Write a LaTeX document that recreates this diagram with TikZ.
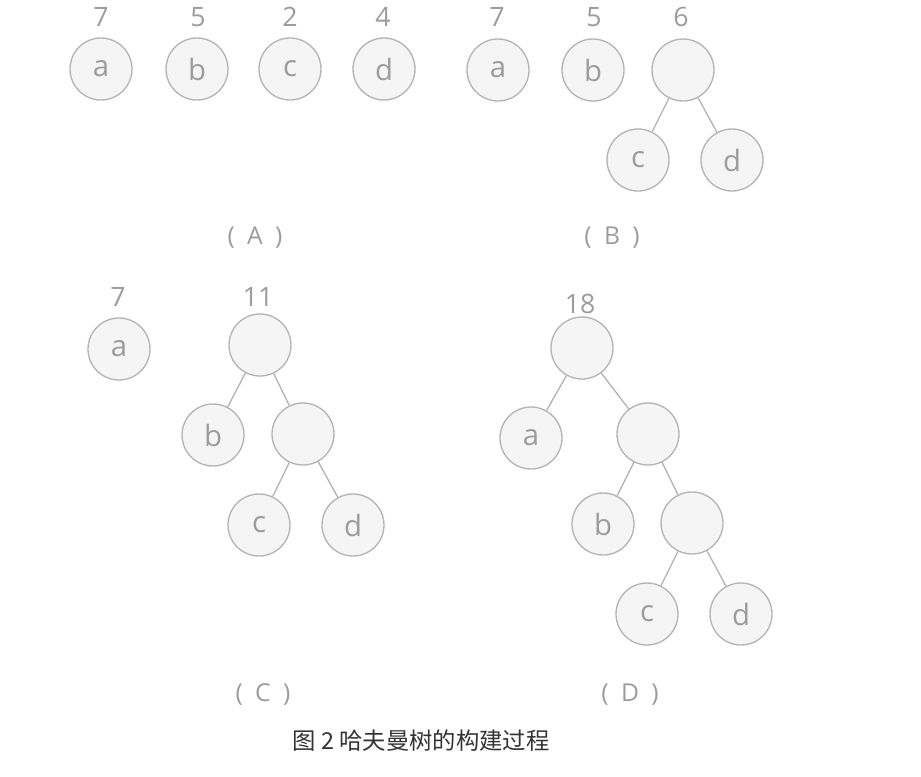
\documentclass[tikz,border=0pt]{standalone}
\usepackage{fontspec}
\setmainfont{Open Sans}
\newfontfamily\cjk{Noto Sans CJK SC}
\usepackage{xcolor}
\definecolor{ringgray}{HTML}{B4B4B4}
\definecolor{fillgray}{HTML}{F5F5F5}
\definecolor{textgray}{HTML}{9C9C9C}
\definecolor{capgray}{HTML}{333333}
\tikzset{
  hnode/.style={circle,draw=ringgray,fill=fillgray,line width=1pt,minimum size=46.5pt,inner sep=0pt,
    text=textgray,font=\fontsize{22}{22}\selectfont},
  weight/.style={text=textgray,font=\fontsize{20}{20}\selectfont},
  sub/.style={text=textgray,font=\fontsize{18.5}{18.5}\selectfont},
  hedge/.style={draw=ringgray,line width=1pt}
}
\begin{document}
\begin{tikzpicture}[x=0.75pt,y=-0.75pt]
\useasboundingbox (0,0) rectangle (921,776);
% (A)
\node (a1) at (101,69) [hnode] {a};
\node (b1) at (197,69) [hnode] {b};
\node (c1) at (290,69) [hnode] {c};
\node (d1) at (384,69) [hnode] {d};
\node (wa1) at (101,17) [weight] {7};
\node (wb1) at (198,17) [weight] {5};
\node (wc1) at (290,17) [weight] {2};
\node (wd1) at (383,17) [weight] {4};
\node (sA) at (255,238) [sub] {(\enspace A\enspace)};
% (B)
\node (a2) at (498,70) [hnode] {a};
\node (b2) at (593,70) [hnode] {b};
\node (r2) at (683,70) [hnode] {};
\node (c2) at (638,160) [hnode] {c};
\node (d2) at (732,160) [hnode] {d};
\node (wa2) at (497,17) [weight] {7};
\node (wb2) at (594,17) [weight] {5};
\node (wr2) at (681,17) [weight] {6};
\node (sB) at (612,238) [sub] {(\enspace B\enspace)};
\draw[hedge] (r2) -- (c2);
\draw[hedge] (r2) -- (d2);
% (C)
\node (a3) at (119,349) [hnode] {a};
\node (r3) at (260,345) [hnode] {};
\node (b3) at (213,435) [hnode] {b};
\node (n3) at (303,434) [hnode] {};
\node (c3) at (259,525) [hnode] {c};
\node (d3) at (353,525) [hnode] {d};
\node (wa3) at (118,297) [weight] {7};
\node (wr3) at (258,297) [weight] {11};
\node (sC) at (263,695) [sub] {(\enspace C\enspace)};
\draw[hedge] (r3) -- (b3);
\draw[hedge] (r3) -- (n3);
\draw[hedge] (n3) -- (c3);
\draw[hedge] (n3) -- (d3);
% (D)
\node (r4) at (582,348) [hnode] {};
\node (a4) at (531,438) [hnode] {a};
\node (n4) at (648,434) [hnode] {};
\node (b4) at (603,524) [hnode] {b};
\node (m4) at (692,523) [hnode] {};
\node (c4) at (647,614) [hnode] {c};
\node (d4) at (741,614) [hnode] {d};
\node (wr4) at (580,304) [weight] {18};
\node (sD) at (630,695) [sub] {(\enspace D\enspace)};
\draw[hedge] (r4) -- (a4);
\draw[hedge] (r4) -- (n4);
\draw[hedge] (n4) -- (b4);
\draw[hedge] (n4) -- (m4);
\draw[hedge] (m4) -- (c4);
\draw[hedge] (m4) -- (d4);
% caption
\node (cap) at (421,741) [text=capgray,font=\cjk\fontsize{17.5}{17.5}\selectfont] {图 2 哈夫曼树的构建过程};
\end{tikzpicture}
\end{document}
